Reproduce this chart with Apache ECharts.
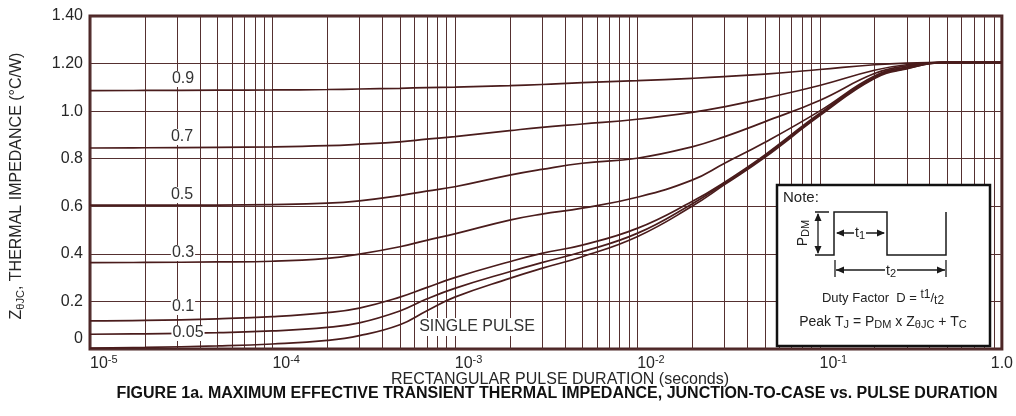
<!DOCTYPE html>
<html>
<head>
<meta charset="utf-8">
<script src="https://cdn.jsdelivr.net/npm/echarts@6/dist/echarts.min.js"></script>
<style>html,body{margin:0;padding:0;background:#fff;}#c{width:1016px;height:416px;}</style>
</head>
<body>
<div id="c"></div>
<script>
// ---- data ----
const durations = [1e-5, 2e-5, 5e-5, 1e-4, 2e-4, 3e-4, 5e-4, 7e-4, 1e-3, 2e-3, 3e-3, 5e-3, 1e-2, 2e-2, 3e-2, 5e-2, 0.1, 0.2, 0.3, 0.5, 1];
const duty09 = [1.086, 1.087, 1.088, 1.089, 1.091, 1.093, 1.096, 1.099, 1.101, 1.107, 1.112, 1.120, 1.128, 1.138, 1.145, 1.156, 1.175, 1.195, 1.202, 1.205, 1.205];
const duty07 = [0.845, 0.846, 0.848, 0.850, 0.855, 0.861, 0.871, 0.882, 0.893, 0.918, 0.932, 0.946, 0.966, 0.995, 1.018, 1.054, 1.108, 1.172, 1.195, 1.205, 1.205];
const duty05 = [0.605, 0.605, 0.605, 0.607, 0.613, 0.623, 0.645, 0.664, 0.682, 0.731, 0.755, 0.781, 0.802, 0.850, 0.892, 0.955, 1.045, 1.158, 1.190, 1.205, 1.205];
const duty03 = [0.363, 0.364, 0.366, 0.369, 0.381, 0.399, 0.430, 0.457, 0.484, 0.542, 0.567, 0.592, 0.638, 0.710, 0.780, 0.868, 1.000, 1.148, 1.185, 1.205, 1.205];
const duty01 = [0.118, 0.120, 0.127, 0.136, 0.153, 0.172, 0.218, 0.258, 0.300, 0.367, 0.402, 0.437, 0.507, 0.620, 0.700, 0.815, 0.990, 1.143, 1.182, 1.205, 1.205];
const duty005 = [0.062, 0.064, 0.069, 0.076, 0.091, 0.110, 0.160, 0.210, 0.255, 0.325, 0.363, 0.409, 0.486, 0.610, 0.695, 0.810, 0.985, 1.140, 1.180, 1.205, 1.205];
const singlePulse = [0.004, 0.007, 0.013, 0.021, 0.036, 0.056, 0.102, 0.160, 0.218, 0.297, 0.339, 0.388, 0.472, 0.600, 0.690, 0.805, 0.980, 1.137, 1.178, 1.205, 1.205];
const curveNames = ['0.9', '0.7', '0.5', '0.3', '0.1', '0.05', 'SINGLE PULSE'];
const xTickValues = [1e-5, 1e-4, 1e-3, 1e-2, 1e-1, 1];
const xTickLabels = ['10^-5', '10^-4', '10^-3', '10^-2', '10^-1', '1.0'];
const yTickLabels = ['0', '0.2', '0.4', '0.6', '0.8', '1.0', '1.20', '1.40'];
const minorMultipliers = [2, 3, 4, 5, 6, 7, 8, 9];
const xAxisTitle = 'RECTANGULAR PULSE DURATION (seconds)';
const figureTitle = 'FIGURE 1a. MAXIMUM EFFECTIVE TRANSIENT THERMAL IMPEDANCE, JUNCTION-TO-CASE vs. PULSE DURATION';

// ---- styling ----
const FONT = '"Liberation Sans", Arial, sans-serif';
const gridColor = '#553030';
const curveColor = '#4a1c1c';
const frameColor = '#4d2626';
const textColor = '#262626';

const seriesData = [duty09, duty07, duty05, duty03, duty01, duty005, singlePulse];

// vertical grid positions (decades and their 2..9 multiples)
const vLines = [];
for (let i = 0; i < xTickValues.length - 1; i++) {
  vLines.push(xTickValues[i]);
  minorMultipliers.forEach(m => vLines.push(xTickValues[i] * m));
}

const chart = echarts.init(document.getElementById('c'), null, {renderer: 'canvas'});

const curveSeries = seriesData.map((arr, i) => ({
  name: curveNames[i],
  type: 'line',
  data: durations.map((t, j) => [t, arr[j]]),
  smooth: 0.45,
  showSymbol: false,
  symbol: 'none',
  z: 3,
  lineStyle: {color: curveColor, width: 1.7},
  emphasis: {disabled: true}
}));

function sub(s){ return '{s|' + s + '}'; }

const noteX = 777, noteY = 185;
const lc = '#1a1a1a';
function tri(pts){ return {type:'polygon', z:103, shape:{points:pts}, style:{fill:lc}}; }

const option = {
  animation: false,
  backgroundColor: '#ffffff',
  textStyle: {fontFamily: FONT},
  grid: {left: 90, right: 11, top: 16, bottom: 67, show: true, borderColor: frameColor, borderWidth: 3, backgroundColor: 'transparent', containLabel: false},
  xAxis: {
    type: 'log', logBase: 10, min: 1e-5, max: 1,
    axisLine: {show: false}, axisTick: {show: false}, splitLine: {show: false},
    axisLabel: {
      margin: 5, align: 'left', alignMaxLabel: 'center', color: textColor, fontFamily: FONT,
      formatter: function (v) {
        let idx = -1;
        xTickValues.forEach((t, i) => { if (Math.abs(Math.log10(t) - Math.log10(v)) < 1e-6) idx = i; });
        if (idx < 0) return '';
        const lab = xTickLabels[idx];
        const p = lab.split('^');
        return p.length > 1 ? '{b|' + p[0] + '}{p|' + p[1] + '}' : '{b|' + lab + '}';
      },
      rich: {
        b: {fontSize: 16, lineHeight: 20, color: textColor, fontFamily: FONT},
        p: {fontSize: 11, lineHeight: 11, verticalAlign: 'top', color: textColor, fontFamily: FONT}
      }
    }
  },
  yAxis: {
    type: 'value', min: 0, max: 1.4, interval: 0.2,
    axisLine: {show: false}, axisTick: {show: false},
    splitLine: {show: true, lineStyle: {color: gridColor, width: 1}},
    axisLabel: {
      margin: 7, color: textColor, fontSize: 16, fontFamily: FONT,
      formatter: function (v) {
        const idx = Math.round(v / 0.2);
        if (idx === 0) return '{z|' + yTickLabels[0] + '}';
        return yTickLabels[idx];
      },
      rich: {z: {fontSize: 16, color: textColor, padding: [0, 0, 20, 0], fontFamily: FONT}}
    }
  },
  series: [{
    name: 'grid', type: 'custom', z: 1, silent: true,
    data: vLines.map(v => [v, 0]),
    encode: {x: 0, y: 1},
    renderItem: function (params, api) {
      const x = api.value(0);
      const p0 = api.coord([x, 0]);
      const p1 = api.coord([x, 1.4]);
      const px = Math.round(p0[0]) + 0.5;
      return {type: 'line', shape: {x1: px, y1: p0[1], x2: px, y2: p1[1]}, style: {stroke: gridColor, lineWidth: 1}};
    }
  }].concat(curveSeries),
  graphic: [
    // curve labels
    ...[['0.9', 183, 79], ['0.7', 182, 137], ['0.5', 182, 195], ['0.3', 183, 253], ['0.1', 183, 307], ['0.05', 188, 333]].map(a => ({
      type: 'text', z: 50, x: a[1], y: a[2],
      style: {text: a[0], fill: '#333', font: '16px ' + FONT, align: 'center', verticalAlign: 'middle', backgroundColor: '#fff', padding: [0, 1]}
    })),
    {type: 'text', z: 50, x: 477, y: 327,
     style: {text: curveNames[6], fill: '#333', font: '16px ' + FONT, align: 'center', verticalAlign: 'middle', backgroundColor: '#fff', padding: [1, 2]}},
    // axis titles
    {type: 'text', z: 50, x: 560, y: 380,
     style: {text: xAxisTitle, fill: textColor, font: '16px ' + FONT, align: 'center', verticalAlign: 'middle'}},
    {type: 'text', z: 50, x: 557, y: 394,
     style: {text: figureTitle, fill: '#111', font: 'bold 16px ' + FONT, align: 'center', verticalAlign: 'middle'}},
    {type: 'text', z: 50, x: 17, y: 186, rotation: Math.PI / 2,
     style: {text: '{n|Z}{s|θJC}{n|, THERMAL IMPEDANCE (°C/W)}', align: 'center', verticalAlign: 'middle',
       rich: {n: {fontSize: 16, lineHeight: 18, fill: textColor, fontFamily: FONT}, s: {fontSize: 11, verticalAlign: 'bottom', fill: textColor, fontFamily: FONT}}}},
    // note box
    {type: 'rect', z: 100, shape: {x: noteX, y: noteY, width: 213, height: 161}, style: {fill: '#fff', stroke: '#111', lineWidth: 2.5}},
    {type: 'text', z: 101, x: 783, y: 198, style: {text: 'Note:', fill: '#222', font: '15px ' + FONT, align: 'left', verticalAlign: 'middle'}},
    {type: 'polyline', z: 102, shape: {points: [[815, 255], [834, 255], [834, 212], [887, 212], [887, 255], [946, 255], [946, 212]]}, style: {stroke: lc, lineWidth: 1.5, fill: null}},
    {type: 'line', z: 102, shape: {x1: 815, y1: 212, x2: 829, y2: 212}, style: {stroke: lc, lineWidth: 1.5}},
    {type: 'line', z: 102, shape: {x1: 818, y1: 214, x2: 818, y2: 253}, style: {stroke: lc, lineWidth: 1.3}},
    tri([[818, 213], [814.5, 221], [821.5, 221]]),
    tri([[818, 254], [814.5, 246], [821.5, 246]]),
    {type: 'line', z: 102, shape: {x1: 837, y1: 233, x2: 884, y2: 233}, style: {stroke: lc, lineWidth: 1.3}},
    tri([[836, 233], [844, 229.5], [844, 236.5]]),
    tri([[885, 233], [877, 229.5], [877, 236.5]]),
    {type: 'line', z: 102, shape: {x1: 836, y1: 270, x2: 945, y2: 270}, style: {stroke: lc, lineWidth: 1.3}},
    {type: 'line', z: 102, shape: {x1: 835, y1: 260, x2: 835, y2: 277}, style: {stroke: lc, lineWidth: 1.3}},
    {type: 'line', z: 102, shape: {x1: 946, y1: 260, x2: 946, y2: 277}, style: {stroke: lc, lineWidth: 1.3}},
    tri([[836, 270], [844, 266.5], [844, 273.5]]),
    tri([[945, 270], [937, 266.5], [937, 273.5]]),
    {type: 'text', z: 104, x: 860, y: 233, style: {text: '{n|t}' + sub('1'), align: 'center', verticalAlign: 'middle', backgroundColor: '#fff', padding: [0, 1],
      rich: {n: {fontSize: 14, lineHeight: 16, fill: '#222', fontFamily: FONT}, s: {fontSize: 11, verticalAlign: 'bottom', fill: '#222', fontFamily: FONT}}}},
    {type: 'text', z: 104, x: 891, y: 271, style: {text: '{n|t}' + sub('2'), align: 'center', verticalAlign: 'middle', backgroundColor: '#fff', padding: [0, 1],
      rich: {n: {fontSize: 14, lineHeight: 16, fill: '#222', fontFamily: FONT}, s: {fontSize: 11, verticalAlign: 'bottom', fill: '#222', fontFamily: FONT}}}},
    {type: 'text', z: 104, x: 803, y: 233, rotation: Math.PI / 2, style: {text: '{n|P}' + sub('DM'), align: 'center', verticalAlign: 'middle',
      rich: {n: {fontSize: 14, lineHeight: 16, fill: '#222', fontFamily: FONT}, s: {fontSize: 11, verticalAlign: 'bottom', fill: '#222', fontFamily: FONT}}}},
    {type: 'text', z: 104, x: 883, y: 298, style: {text: '{n|Duty Factor  D = }{u|t1}{n|/}{s|t2}', align: 'center', verticalAlign: 'middle',
      rich: {n: {fontSize: 13, lineHeight: 18, fill: '#222', fontFamily: FONT}, u: {fontSize: 12, verticalAlign: 'top', fill: '#222', fontFamily: FONT}, s: {fontSize: 12, verticalAlign: 'bottom', fill: '#222', fontFamily: FONT}}}},
    {type: 'text', z: 104, x: 883, y: 322, style: {text: '{n|Peak T}' + sub('J') + '{n| = P}' + sub('DM') + '{n| x Z}' + sub('θJC') + '{n| + T}' + sub('C'), align: 'center', verticalAlign: 'middle',
      rich: {n: {fontSize: 14, lineHeight: 16, fill: '#222', fontFamily: FONT}, s: {fontSize: 11, verticalAlign: 'bottom', fill: '#222', fontFamily: FONT}}}}
  ]
};
chart.setOption(option);
</script>
</body>
</html>
